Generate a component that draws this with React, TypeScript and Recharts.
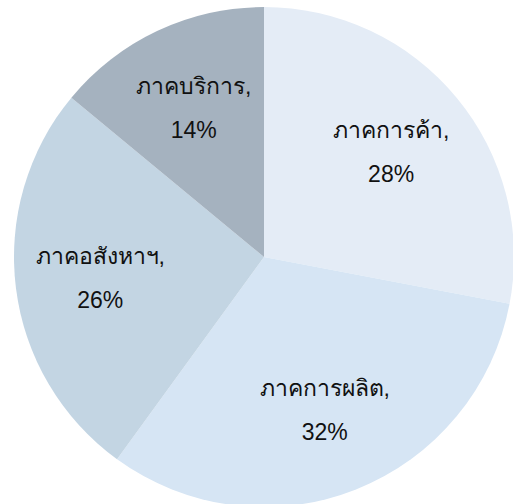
import { PieChart, Pie, Cell } from 'recharts';

const sectors = ['ภาคการค้า', 'ภาคการผลิต', 'ภาคอสังหาฯ', 'ภาคบริการ'];
const shares = [28, 32, 26, 14];
const colors = ['#e4ecf6', '#d6e5f4', '#c3d5e3', '#a5b2bf'];

const data = sectors.map((name, i) => ({ name, value: shares[i] }));

const RADIAN = Math.PI / 180;

// two-line label (name, / percent) centred inside each slice
const renderLabel = (props: any) => {
  const { cx, cy, midAngle, outerRadius, index } = props;
  const r = outerRadius * 0.66;
  const x = cx + r * Math.cos(-midAngle * RADIAN);
  const y = cy + r * Math.sin(-midAngle * RADIAN);
  return (
    <text
      x={x}
      y={y}
      textAnchor="middle"
      fill="#111111"
      fontSize={23}
      fontFamily="'Liberation Sans', Arial, sans-serif"
    >
      <tspan x={x} y={y - 14}>{`${sectors[index]},`}</tspan>
      <tspan x={x} y={y + 30}>{`${shares[index]}%`}</tspan>
    </text>
  );
};

export default function App() {
  return (
    <div style={{ position: 'absolute', left: 0, top: 0, background: '#fff' }}>
      <PieChart width={513} height={504} margin={{ top: 0, right: 0, bottom: 0, left: 0 }}>
        <Pie
          data={data}
          dataKey="value"
          nameKey="name"
          cx={264}
          cy={257}
          outerRadius={250}
          startAngle={90}
          endAngle={-270}
          stroke="none"
          label={renderLabel}
          labelLine={false}
          isAnimationActive={false}
        >
          {data.map((d, i) => (
            <Cell key={d.name} fill={colors[i]} />
          ))}
        </Pie>
      </PieChart>
    </div>
  );
}
